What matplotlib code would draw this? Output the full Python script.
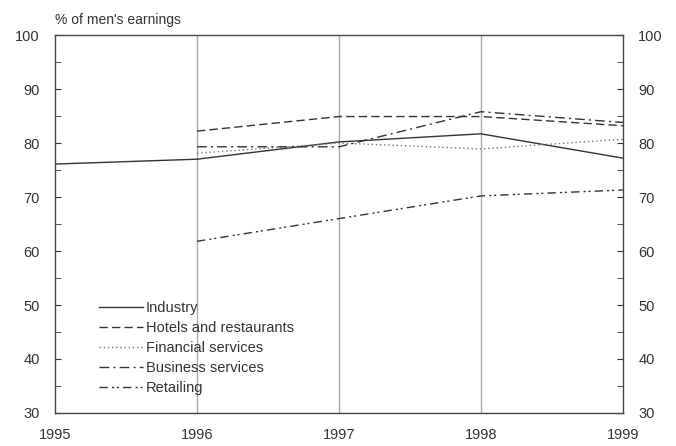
import matplotlib
matplotlib.use("Agg")
import matplotlib.pyplot as plt
from matplotlib.ticker import MultipleLocator

plt.rcParams['font.family'] = ['Liberation Sans', 'DejaVu Sans']

years_all = [1995, 1996, 1997, 1998, 1999]
years_sub = [1996, 1997, 1998, 1999]
industry = [76.1, 77.0, 80.2, 81.7, 77.2]
hotels = [82.2, 84.9, 84.9, 83.2]
financial = [78.1, 80.0, 78.9, 80.7]
business = [79.3, 79.3, 85.8, 83.8]
retailing = [61.8, 66.0, 70.2, 71.3]
labels = ["Industry", "Hotels and restaurants", "Financial services",
          "Business services", "Retailing"]

fig = plt.figure(figsize=(6.76, 4.46), dpi=100)
ax = fig.add_axes([0.0814, 0.074, 0.840, 0.8475])

c = '#333333'
ax.plot(years_all, industry, color=c, lw=1.0, ls='-', label=labels[0])
ax.plot(years_sub, hotels, color=c, lw=1.0, ls=(0, (6, 3)), label=labels[1])
ax.plot(years_sub, financial, color='#777777', lw=1.0, ls=(0, (1, 2)), label=labels[2])
ax.plot(years_sub, business, color=c, lw=1.0, ls=(0, (7, 3, 1.5, 3)), label=labels[3])
ax.plot(years_sub, retailing, color=c, lw=1.0, ls=(0, (6, 3, 1.5, 2, 1.5, 3)), label=labels[4])

ax.set_xlim(1995, 1999)
ax.set_ylim(30, 100)
ax.set_xticks(years_all)
ax.yaxis.set_major_locator(MultipleLocator(10))
ax.yaxis.set_minor_locator(MultipleLocator(5))
ax.tick_params(axis='y', which='both', direction='in', left=True, right=True,
               labelleft=True, labelright=True, labelsize=10.5, colors='#333333', pad=11)
ax.tick_params(axis='y', which='major', length=4)
ax.tick_params(axis='y', which='minor', length=4)
ax.tick_params(axis='x', length=0, labelsize=10.5, colors='#333333', pad=11)
for x in [1996, 1997, 1998]:
    ax.axvline(x, color='#aaaaaa', lw=1.0, zorder=0)
for s in ax.spines.values():
    s.set_color('#444444')
    s.set_linewidth(1.0)

ax.text(0.0, 1.02, "% of men's earnings", transform=ax.transAxes, ha='left', va='bottom',
        fontsize=10, color='#333333')

leg = ax.legend(loc='lower left', bbox_to_anchor=(0.06, 0.02), frameon=False,
                fontsize=10.5, handlelength=3.0, handletextpad=0.2, labelspacing=0.42,
                borderaxespad=0.3)
for t in leg.get_texts():
    t.set_color('#333333')

fig.savefig("out.png", dpi=100)
